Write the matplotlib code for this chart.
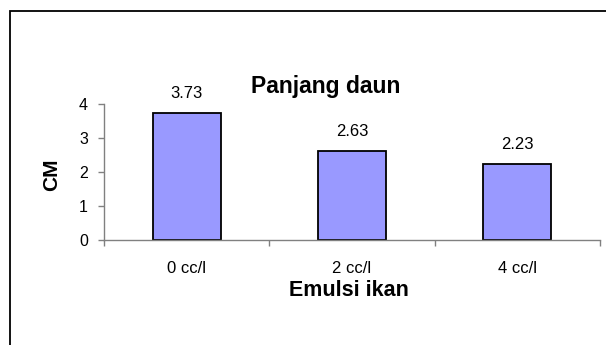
import matplotlib
matplotlib.use("Agg")
import matplotlib.pyplot as plt
from matplotlib.patches import Rectangle

# Leaf length by fish emulsion dose
categories = ["0 cc/l", "2 cc/l", "4 cc/l"]
values = [3.73, 2.63, 2.23]
value_labels = ["3.73", "2.63", "2.23"]
y_ticks = [0, 1, 2, 3, 4]

plt.rcParams["font.family"] = ["Liberation Sans", "DejaVu Sans"]

W, H = 606, 345
fig = plt.figure(figsize=(W / 100, H / 100), dpi=100)
fig.patch.set_facecolor("white")

# chart-area frame, running off the right and bottom edges
fig.add_artist(Rectangle((10 / W, -0.1), 1.2, 1 - 11 / H + 0.1,
                         transform=fig.transFigure, fill=False,
                         edgecolor="#000000", linewidth=1.3))

ax = fig.add_axes([104 / W, 1 - 240 / H, (600 - 104) / W, 136 / H])
x = list(range(len(categories)))
ax.bar(x, values, width=0.41, color="#9999FF", edgecolor="black",
       linewidth=1.3, zorder=2)

ax.set_xlim(-0.5, len(categories) - 0.5)
ax.set_ylim(0, 4)
ax.set_yticks(y_ticks)
ax.set_yticklabels([str(t) for t in y_ticks], fontsize=11.5)

ax.set_xticks(x)
ax.set_xticklabels(categories, fontsize=12)
ax.set_xticks([i - 0.5 for i in range(len(categories) + 1)], minor=True)
ax.tick_params(axis="x", which="major", length=0, pad=15)
ax.tick_params(axis="x", which="minor", length=4.5, color="#808080", width=1)
ax.tick_params(axis="y", length=4.5, color="#808080", width=1, pad=7)

for s in ("top", "right"):
    ax.spines[s].set_visible(False)
for s in ("left", "bottom"):
    ax.spines[s].set_color("#808080")
    ax.spines[s].set_linewidth(1)

for xi, v, lab in zip(x, values, value_labels):
    ax.annotate(lab, (xi, v), xytext=(0, 14), textcoords="offset points",
                ha="center", va="center", fontsize=12)

fig.text(326 / W, 1 - 93 / H, "Panjang daun", ha="center", va="baseline",
         fontsize=16.5, fontweight="bold")
fig.text(52 / W, 1 - 175 / H, "CM", ha="center", va="center", rotation=90,
         fontsize=15, fontweight="bold")
fig.text(349 / W, 1 - 296 / H, "Emulsi ikan", ha="center", va="baseline",
         fontsize=15.5, fontweight="bold")

fig.savefig("out.png", dpi=100)
